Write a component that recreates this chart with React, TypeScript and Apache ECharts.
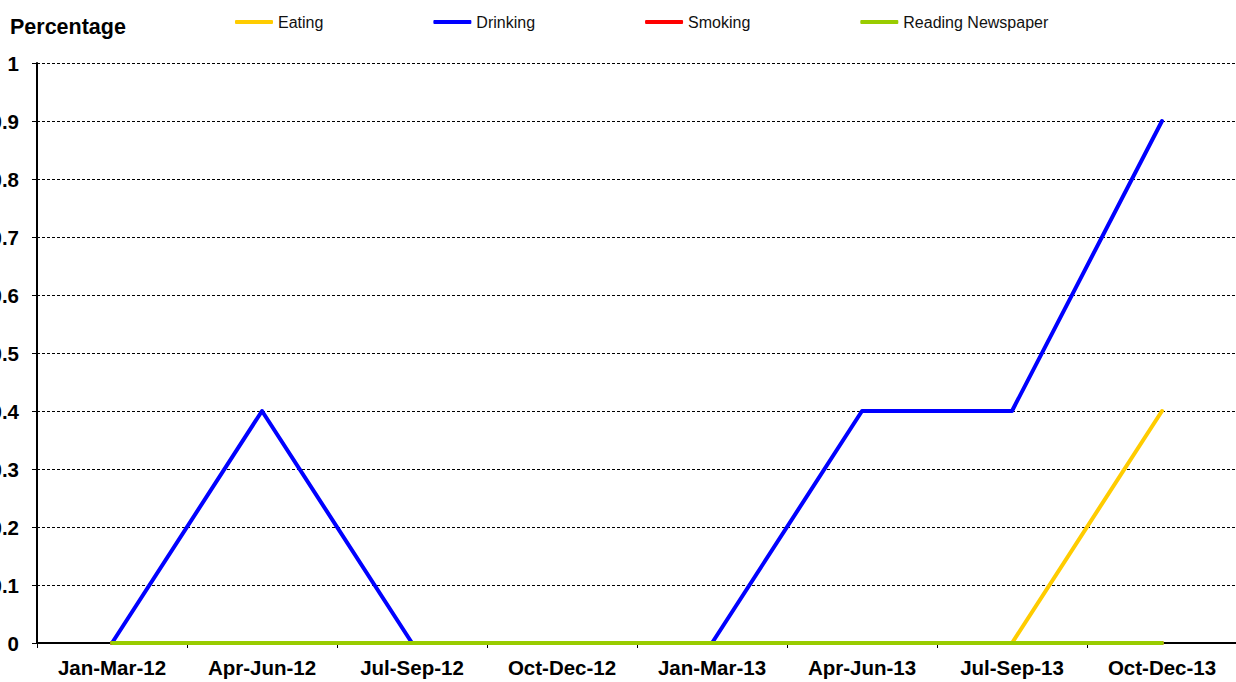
import React, { useEffect, useRef } from "react";
import * as echarts from "echarts";

const categories = ["Jan-Mar-12", "Apr-Jun-12", "Jul-Sep-12", "Oct-Dec-12", "Jan-Mar-13", "Apr-Jun-13", "Jul-Sep-13", "Oct-Dec-13"];
const eating = [0, 0, 0, 0, 0, 0, 0, 0.4];
const drinking = [0, 0.4, 0, 0, 0, 0.4, 0.4, 0.9];
const smoking = [0, 0, 0, 0, 0, 0, 0, 0];
const readingNewspaper = [0, 0, 0, 0, 0, 0, 0, 0];

const seriesDefs = [
  { name: "Eating", data: eating, color: "#FFCC00" },
  { name: "Drinking", data: drinking, color: "#0000FF" },
  { name: "Smoking", data: smoking, color: "#FF0000" },
  { name: "Reading Newspaper", data: readingNewspaper, color: "#99CC00" },
];

export default function App() {
  const ref = useRef<HTMLDivElement>(null);
  useEffect(() => {
    if (!ref.current) return;
    const chart = echarts.init(ref.current, undefined, { renderer: "svg" });
    chart.setOption({
      animation: false,
      backgroundColor: "#fff",
      title: {
        text: "Percentage",
        left: 5,
        top: 11,
        textStyle: { fontFamily: "Liberation Sans, Arial", fontWeight: "bold", fontSize: 21.5, color: "#000" },
      },
      legend: {
        left: 230,
        top: 9,
        itemGap: 110,
        itemWidth: 38,
        itemHeight: 4,
        icon: "roundRect",
        textStyle: { fontFamily: "Liberation Sans, Arial", fontSize: 16, color: "#111" },
        data: seriesDefs.map((s) => s.name),
      },
      grid: { left: 37, right: -1, top: 63, bottom: 39, outerBoundsMode: "none", containLabel: false },
      xAxis: {
        type: "category",
        data: categories,
        boundaryGap: true,
        axisLine: { lineStyle: { color: "#000", width: 2 } },
        axisTick: { show: true, length: 5, lineStyle: { color: "#000", width: 1 } },
        axisLabel: { margin: 14, fontFamily: "Liberation Sans, Arial", fontWeight: "bold", fontSize: 20.5, color: "#000" },
        splitLine: { show: false },
      },
      yAxis: {
        type: "value",
        min: 0,
        max: 1,
        interval: 0.1,
        axisLine: { show: true, lineStyle: { color: "#000", width: 2 } },
        axisTick: { show: true, length: 5, lineStyle: { color: "#000", width: 1 } },
        axisLabel: { margin: 18, fontFamily: "Liberation Sans, Arial", fontWeight: "bold", fontSize: 20.5, color: "#000" },
        splitLine: { show: true, lineStyle: { color: "#000", width: 1, type: [3, 2] } },
      },
      series: seriesDefs.map((s) => ({
        name: s.name,
        type: "line",
        data: s.data,
        showSymbol: false,
        symbol: "none",
        clip: false,
        itemStyle: { color: s.color },
        lineStyle: { color: s.color, width: 4, join: "round", cap: "round" },
      })),
    });
    return () => chart.dispose();
  }, []);
  return <div ref={ref} style={{ position: "fixed", left: 0, top: 0, width: 1236, height: 682 }} />;
}
